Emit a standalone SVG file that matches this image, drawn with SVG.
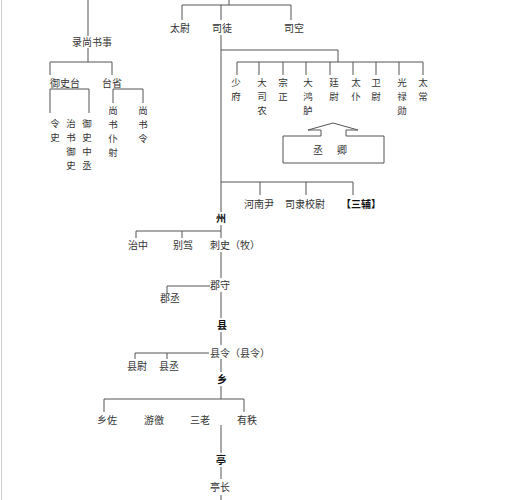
<svg xmlns="http://www.w3.org/2000/svg" width="516" height="500" viewBox="0 0 516 500">
<style>
text{font-family:"Noto Sans CJK SC","Noto Sans CJK JP",sans-serif;font-size:10px;fill:#333;text-anchor:middle}
.v{font-size:9.5px}
.b{font-weight:bold;fill:#111}
.ln{stroke:#555;stroke-width:1;fill:none}
</style>
<rect width="516" height="500" fill="#fff"/>
<line x1="1.5" y1="0" x2="1.5" y2="500" stroke="#d0d0d0" stroke-width="1"/>
<g id="connectors" class="ln">
<path d="M229,0V5M182,5H291M182,5V20M221,5V20M291,5V20"/>
<path d="M221,35V212M221,225V238M221,252V278M221,292V318M221,332V345M221,359V372M221,386V399M221,425V453M221,467V479M221,495V500"/>
<path d="M221,50H338V62M237,62H423M237,62V75M259,62V75M283,62V75M306,62V75M330,62V75M353,62V75M376,62V75M399,62V75M423,62V75"/>
<path d="M221,182H353M260,182V195M306,182V195M353,182V195"/>
<path d="M136,231H221M136,231V238M182,231V238"/>
<path d="M167,286H210M167,286V293"/>
<path d="M135,353H209M135,353V359M167,353V359"/>
<path d="M104,399H244M104,399V412M244,399V412"/>
<path d="M88,0V36M88,48V62M50,62H112M50,62V75M112,62V75"/>
<path d="M50,89H89M50,89V113M89,89V113M113,89H143M113,89V103M143,89V103"/>
</g>
<g id="n-sangong">
<text x="180" y="31.5">太尉</text>
<text x="222" y="31.5">司徒</text>
<text x="294" y="31.5">司空</text>
</g>
<g id="n-lushangshu"><text x="92" y="45.5">录尚书事</text></g>
<g id="n-yushitai"><text x="65" y="86.5">御史台</text></g>
<g id="n-taisheng"><text x="112" y="86.5">台省</text></g>
<g id="n-lingshi" class="v"><text class="v" x="55" y="126.5">令</text><text class="v" x="55" y="140.5">史</text></g>
<g id="n-zhishu"><text class="v" x="71" y="126.5">治</text><text class="v" x="71" y="140.5">书</text><text class="v" x="71" y="154.5">御</text><text class="v" x="71" y="168.5">史</text></g>
<g id="n-zhongcheng"><text class="v" x="87" y="126.5">御</text><text class="v" x="87" y="140.5">史</text><text class="v" x="87" y="154.5">中</text><text class="v" x="87" y="168.5">丞</text></g>
<g id="n-puye"><text class="v" x="113" y="113.5">尚</text><text class="v" x="113" y="127.5">书</text><text class="v" x="113" y="141.5">仆</text><text class="v" x="113" y="155.5">射</text></g>
<g id="n-shangshuling"><text class="v" x="143" y="113.5">尚</text><text class="v" x="143" y="127.5">书</text><text class="v" x="143" y="141.5">令</text></g>
<g id="n-jiuqing">
<text class="v" x="236" y="85.5">少</text><text class="v" x="236" y="99.5">府</text>
<text class="v" x="262" y="85.5">大</text><text class="v" x="262" y="99.5">司</text><text class="v" x="262" y="113.5">农</text>
<text class="v" x="283" y="85.5">宗</text><text class="v" x="283" y="99.5">正</text>
<text class="v" x="308" y="85.5">大</text><text class="v" x="308" y="99.5">鸿</text><text class="v" x="308" y="113.5">胪</text>
<text class="v" x="334" y="85.5">廷</text><text class="v" x="334" y="99.5">尉</text>
<text class="v" x="356" y="85.5">太</text><text class="v" x="356" y="99.5">仆</text>
<text class="v" x="376" y="85.5">卫</text><text class="v" x="376" y="99.5">尉</text>
<text class="v" x="402" y="85.5">光</text><text class="v" x="402" y="99.5">禄</text><text class="v" x="402" y="113.5">勋</text>
<text class="v" x="423" y="85.5">太</text><text class="v" x="423" y="99.5">常</text>
</g>
<g id="n-chengqing">
<path class="ln" d="M283,136H321V130H308L333,123L358,130H346V136H384V163H283Z"/>
<text x="318" y="153.5">丞</text><text x="342" y="153.5">卿</text>
</g>
<g id="n-jingji">
<text x="259" y="207.5">河南尹</text>
<text x="305" y="207.5">司隶校尉</text>
<text class="b" x="361" y="207.5">【三辅】</text>
</g>
<g id="n-zhou">
<text class="b" x="221" y="221.5">州</text>
<text x="138" y="248.5">治中</text>
<text x="183" y="248.5">别驾</text>
<text x="235" y="248.5">刺史（牧）</text>
</g>
<g id="n-jun">
<text x="220" y="288.5">郡守</text>
<text x="170" y="301.5">郡丞</text>
</g>
<g id="n-xian">
<text class="b" x="222" y="328.5">县</text>
<text x="240" y="356.5">县令（县令）</text>
<text x="137" y="369.5">县尉</text>
<text x="169" y="369.5">县丞</text>
</g>
<g id="n-xiang">
<text class="b" x="222" y="382.5">乡</text>
<text x="107" y="423.5">乡佐</text>
<text x="154" y="423.5">游徼</text>
<text x="200" y="423.5">三老</text>
<text x="247" y="423.5">有秩</text>
</g>
<g id="n-ting">
<text class="b" x="221" y="463.5">亭</text>
<text x="220" y="490.5">亭长</text>
</g>
</svg>
